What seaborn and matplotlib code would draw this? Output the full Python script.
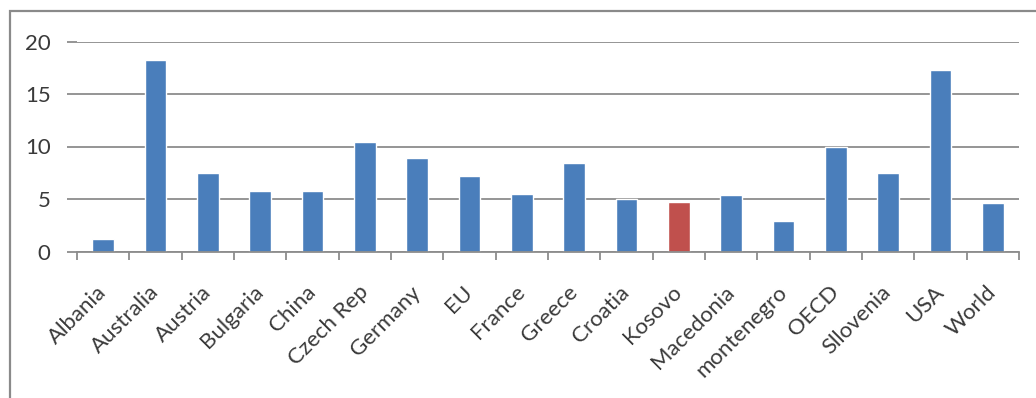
import matplotlib
matplotlib.use("Agg")
import matplotlib.pyplot as plt
import seaborn as sns
import pandas as pd
from matplotlib.patches import Rectangle
from matplotlib import font_manager

countries = ["Albania", "Australia", "Austria", "Bulgaria", "China", "Czech Rep",
             "Germany", "EU", "France", "Greece", "Croatia", "Kosovo", "Macedonia",
             "montenegro", "OECD", "Sllovenia", "USA", "World"]
values = [1.2, 18.2, 7.5, 5.8, 5.8, 10.4, 8.9, 7.2, 5.5, 8.4, 5.0, 4.7, 5.4,
          2.9, 10.0, 7.5, 17.3, 4.6]
highlight = "Kosovo"

BLUE = "#4a7ebb"
RED = "#c0504d"
GRID = "#8c8c8c"
TEXT = "#3a3a3a"
FS = 16

sns.set_theme(style="white")
plt.rcParams["font.family"] = ["Lato", "DejaVu Sans"]

W, H = 1036, 398
fig = plt.figure(figsize=(W / 100, H / 100), dpi=100)
ax = fig.add_axes([77 / W, 1 - 251.5 / H, (1019 - 77) / W, (251.5 - 41.5) / H])

df = pd.DataFrame({"country": countries, "value": values})
palette = {c: (RED if c == highlight else BLUE) for c in countries}
sns.barplot(data=df, x="country", y="value", hue="country", palette=palette,
            legend=False, width=0.42, saturation=1, ax=ax, zorder=3)

ax.set_xlim(-0.5, len(countries) - 0.5)
ax.set_ylim(0, 20)
ax.set_yticks([0, 5, 10, 15, 20])
ax.set_xlabel("")
ax.set_ylabel("")

for s in ["top", "right", "left"]:
    ax.spines[s].set_visible(False)
ax.spines["bottom"].set_color(GRID)
ax.spines["bottom"].set_linewidth(1.3)
ax.spines["bottom"].set_zorder(4)

ax.yaxis.grid(True, color=GRID, linewidth=1.3, zorder=0)
ax.set_axisbelow(True)
ax.tick_params(axis="y", which="major", length=7, width=1.3, color=GRID,
               labelsize=FS, labelcolor=TEXT, pad=12, left=True)

ax.set_xticks([i - 0.5 for i in range(len(countries) + 1)], minor=True)
ax.tick_params(axis="x", which="minor", length=6, width=1.3, color=GRID, bottom=True)
ax.tick_params(axis="x", which="major", length=0, labelsize=FS, labelcolor=TEXT, pad=27)
for lbl in ax.get_xticklabels():
    lbl.set_rotation(45)
    lbl.set_rotation_mode("anchor")
    lbl.set_ha("right")
    lbl.set_va("center")

# outer chart border (cropped at right and bottom)
fig.patches.append(Rectangle((9.5 / W, -0.1), 1.2, (H - 11) / H + 0.1,
                             transform=fig.transFigure, fill=False,
                             edgecolor="#8a8a8a", linewidth=1.6, clip_on=False))

fig.canvas.draw()
r = fig.canvas.get_renderer()
for t in ax.get_xticklabels() + ax.get_yticklabels():
    t.get_window_extent(r)
font_manager.findfont(font_manager.FontProperties(family="Lato"))
fig.text(0.3, 0.5, "", fontsize=10, family="DejaVu Sans")
fig.savefig("out.png", dpi=100)
